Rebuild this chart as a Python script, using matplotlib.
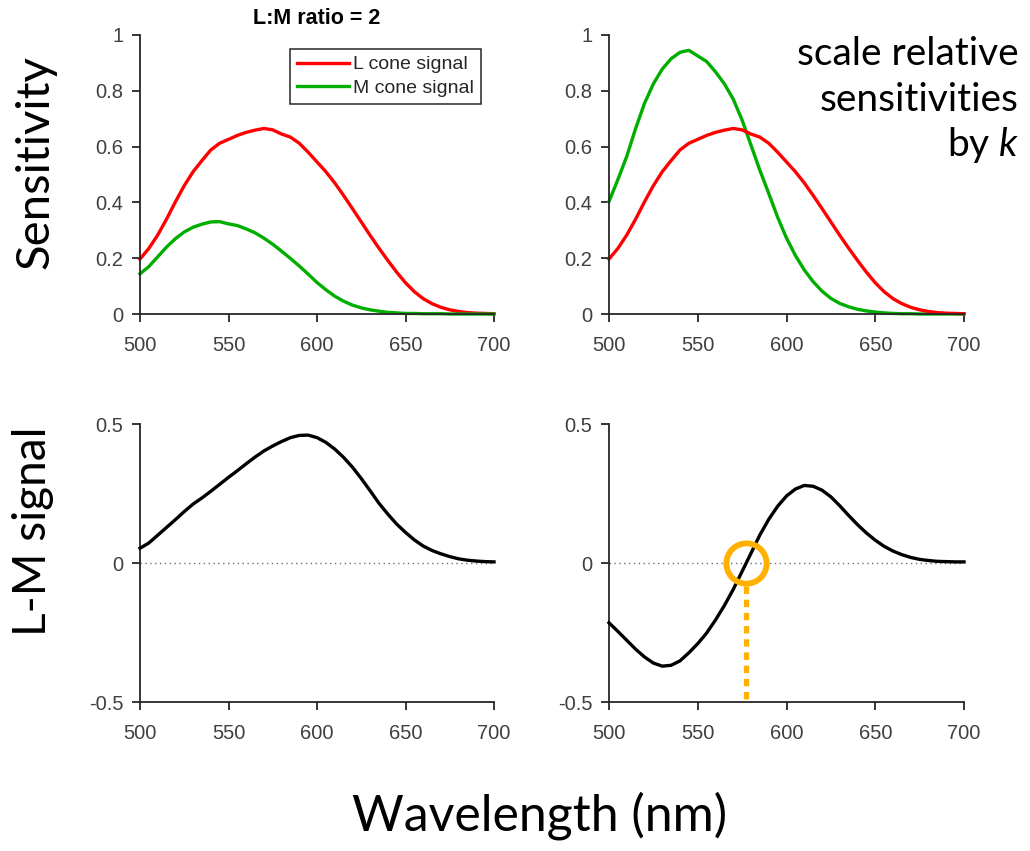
import matplotlib
matplotlib.use("Agg")
import matplotlib.pyplot as plt

# Wavelength samples (nm)
wavelength = [500, 505, 510, 515, 520, 525, 530, 535, 540, 545,
              550, 555, 560, 565, 570, 575, 580, 585, 590, 595,
              600, 605, 610, 615, 620, 625, 630, 635, 640, 645,
              650, 655, 660, 665, 670, 675, 680, 685, 690, 695, 700]

# L cone signal, weighted for an L:M ratio of 2
l_cone = [0.197, 0.235, 0.283, 0.340, 0.402, 0.460, 0.510, 0.550, 0.588, 0.612,
          0.626, 0.640, 0.651, 0.659, 0.665, 0.660, 0.645, 0.634, 0.612, 0.580,
          0.545, 0.510, 0.470, 0.425, 0.378, 0.330, 0.282, 0.236, 0.192, 0.150,
          0.112, 0.080, 0.055, 0.037, 0.024, 0.015, 0.009, 0.005, 0.003, 0.002, 0.001]

# M cone signal, weighted for an L:M ratio of 2
m_cone = [0.144, 0.170, 0.205, 0.240, 0.270, 0.294, 0.311, 0.322, 0.330, 0.331,
          0.323, 0.317, 0.305, 0.291, 0.272, 0.250, 0.225, 0.199, 0.172, 0.143,
          0.113, 0.087, 0.064, 0.046, 0.032, 0.022, 0.015, 0.010, 0.006, 0.004,
          0.002, 0.002, 0.001, 0.001, 0.001, 0.000, 0.000, 0.000, 0.000, 0.000, 0.000]

# M cone signal after scaling by k
m_cone_k = [0.403, 0.482, 0.565, 0.665, 0.755, 0.825, 0.878, 0.915, 0.938, 0.945,
            0.925, 0.905, 0.868, 0.825, 0.770, 0.695, 0.605, 0.515, 0.432, 0.347,
            0.272, 0.210, 0.158, 0.116, 0.082, 0.056, 0.038, 0.026, 0.017, 0.011,
            0.007, 0.004, 0.002, 0.001, 0.001, 0.000, 0.000, 0.000, 0.000, 0.000, 0.000]

# Opponent L-M signal, ratio-weighted
lm_signal = [0.053, 0.072, 0.100, 0.128, 0.156, 0.185, 0.212, 0.234, 0.258, 0.283,
             0.308, 0.332, 0.357, 0.381, 0.403, 0.421, 0.437, 0.451, 0.459, 0.460,
             0.451, 0.434, 0.410, 0.380, 0.345, 0.304, 0.260, 0.215, 0.176, 0.140,
             0.110, 0.083, 0.061, 0.045, 0.033, 0.023, 0.015, 0.010, 0.007, 0.005, 0.004]

# Opponent L-M signal with k-scaled M
lm_signal_k = [-0.215, -0.246, -0.278, -0.310, -0.338, -0.360, -0.371, -0.368, -0.352, -0.323,
               -0.290, -0.252, -0.205, -0.153, -0.095, -0.030, 0.035, 0.101, 0.157, 0.204,
               0.241, 0.266, 0.279, 0.276, 0.262, 0.238, 0.206, 0.171, 0.138, 0.108,
               0.082, 0.060, 0.043, 0.030, 0.020, 0.013, 0.009, 0.006, 0.005, 0.004, 0.004]

# Zero crossing of the k-scaled opponent signal (nm)
crossing_nm = 577

x_ticks = [500, 550, 600, 650, 700]
sens_ticks = [0, 0.2, 0.4, 0.6, 0.8, 1]
sens_labels = ["0", "0.2", "0.4", "0.6", "0.8", "1"]
lm_ticks = [-0.5, 0, 0.5]
lm_labels = ["-0.5", "0", "0.5"]

RED = "#FF0000"
GREEN = "#00AE00"
ORANGE = "#FFB000"
AX_COLOR = "#262626"
TICK_TEXT = "#404040"
BIG_FONT = "Lato"
TICK_FONT = "Liberation Sans"

plt.rcParams["mathtext.fontset"] = "custom"
plt.rcParams["mathtext.rm"] = BIG_FONT
plt.rcParams["mathtext.it"] = BIG_FONT + ":italic"

W, H = 1030, 851
fig = plt.figure(figsize=(W / 100, H / 100), dpi=100)


def px_axes(x0, y0, x1, y1):
    return fig.add_axes([x0 / W, 1 - y1 / H, (x1 - x0) / W, (y1 - y0) / H])


ax_tl = px_axes(140, 35, 494, 314)
ax_tr = px_axes(609, 35, 964, 314)
ax_bl = px_axes(140, 424, 494, 702)
ax_br = px_axes(609, 424, 964, 702)


def style(ax, yticks, ylabels, ylim):
    ax.set_xlim(500, 700)
    ax.set_ylim(*ylim)
    ax.set_xticks(x_ticks)
    ax.set_xticklabels([str(t) for t in x_ticks])
    ax.set_yticks(yticks)
    ax.set_yticklabels(ylabels)
    for side in ("top", "right"):
        ax.spines[side].set_visible(False)
    for side in ("left", "bottom"):
        ax.spines[side].set_color(AX_COLOR)
        ax.spines[side].set_linewidth(1.3)
    ax.tick_params(axis="both", direction="out", length=6, width=1.3,
                   color=AX_COLOR, labelcolor=TICK_TEXT, labelsize=14.5)
    ax.tick_params(axis="x", pad=9.5)
    ax.tick_params(axis="y", pad=6)
    for lab in ax.get_xticklabels() + ax.get_yticklabels():
        lab.set_fontfamily(TICK_FONT)
    ax.patch.set_alpha(0)


for ax in (ax_tl, ax_tr):
    style(ax, sens_ticks, sens_labels, (0, 1))
for ax in (ax_bl, ax_br):
    style(ax, lm_ticks, lm_labels, (-0.5, 0.5))

lw = 2.4
# Top left: ratio-weighted cone signals
ax_tl.plot(wavelength, l_cone, color=RED, lw=lw, label="L cone signal", clip_on=False)
ax_tl.plot(wavelength, m_cone, color=GREEN, lw=lw, label="M cone signal", clip_on=False)
ax_tl.set_title("L:M ratio = 2", fontfamily=TICK_FONT, fontweight="bold",
                fontsize=15.5, color="black", pad=8)
leg = ax_tl.legend(loc="upper right", bbox_to_anchor=(481 / W, 1 - 49 / H),
                   bbox_transform=fig.transFigure, borderaxespad=0,
                   prop={"family": TICK_FONT, "size": 14},
                   fancybox=False, framealpha=1, edgecolor=AX_COLOR,
                   handlelength=2.7, handletextpad=0.2, labelspacing=0.3,
                   borderpad=0.35)
leg.get_frame().set_linewidth(1.1)
for t in leg.get_texts():
    t.set_color("#262626")

# Top right: M scaled by k
ax_tr.plot(wavelength, m_cone_k, color=GREEN, lw=lw, clip_on=False)
ax_tr.plot(wavelength, l_cone, color=RED, lw=lw, clip_on=False)

# Bottom: opponent signals
for ax, sig in ((ax_bl, lm_signal), (ax_br, lm_signal_k)):
    ax.plot([500, 700], [0, 0], color="#707070", lw=1.0, ls=(0, (1, 2.5)), zorder=1)
    ax.plot(wavelength, sig, color="black", lw=lw, zorder=3, clip_on=False)

# Null point marker and drop line
ax_br.plot([crossing_nm, crossing_nm], [-0.083, -0.5], color=ORANGE, lw=3.8,
           ls=(0, (1.4, 1.1)), solid_capstyle="butt", dash_capstyle="butt", zorder=4)
ax_br.plot([crossing_nm], [0], marker="o", ms=29, mfc="none", mec=ORANGE,
           mew=4.2, zorder=5, clip_on=False)

# Figure-level labels
fig.text(35 / W, 1 - 162 / H, "Sensitivity", rotation=90, ha="center", va="center",
         fontfamily=BIG_FONT, fontsize=34, color="black")
fig.text(33 / W, 1 - 531 / H, "L-M signal", rotation=90, ha="center", va="center",
         fontfamily=BIG_FONT, fontsize=33, color="black")
fig.text(540 / W, 1 - 830 / H, "Wavelength (nm)", ha="center", va="baseline",
         fontfamily=BIG_FONT, fontsize=36, color="black")
for txt, yb in (("scale relative", 65), ("sensitivities", 111), ("by $k$", 156)):
    fig.text(1019 / W, 1 - yb / H, txt, ha="right", va="baseline",
             fontfamily=BIG_FONT, fontsize=28, color="black")

fig.savefig("out.png", dpi=100)
